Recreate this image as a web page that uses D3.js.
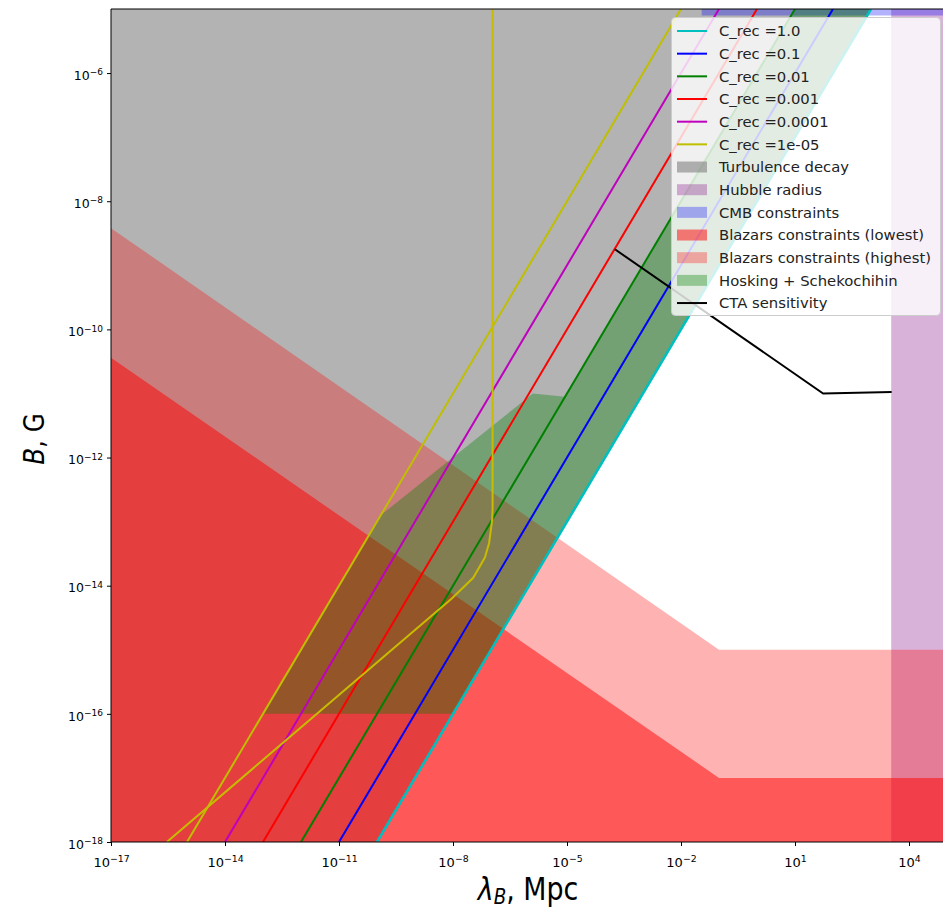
<!DOCTYPE html>
<html><head><meta charset="utf-8">
<script src="https://cdn.jsdelivr.net/npm/d3@7"></script>
<style>body{margin:0;background:#fff} text{font-family:"DejaVu Sans",sans-serif}</style>
</head><body><svg id="c" width="943" height="913"></svg>
<script>
// ---------- data (lambda in Mpc, B in G) ----------
const lineLabels = ["C_rec =1.0","C_rec =0.1","C_rec =0.01","C_rec =0.001","C_rec =0.0001","C_rec =1e-05"];
const lineColors = ["#00bfbf","#0000ff","#008000","#ff0000","#bf00bf","#bfbf00"];
const crec1     = [[1e-10,1e-18],[1e3,1e-5]];
const crec01    = [[1e-11,1e-18],[1e2,1e-5]];
const crec001   = [[1e-12,1e-18],[1e1,1e-5]];
const crec0001  = [[1e-13,1e-18],[1e0,1e-5]];
const crec00001 = [[1e-14,1e-18],[1e-1,1e-5]];
const crec1em5  = [[1e-15,1e-18],[1e-2,1e-5]];
const crecLines = [crec1,crec01,crec001,crec0001,crec00001,crec1em5];
// unlabelled yellow curve
const yellowCurve = [[2.95e-16,1e-18],[9.3e-9,6.3e-15],[3.4e-8,1.33e-14],[6.9e-8,2.75e-14],[8.9e-8,4.6e-14],[1.07e-7,1.05e-13],[1.1e-7,1.6e-13],[1.1e-7,1e-5]];
const turbulence = [[1e-17,1e-18],[1e-10,1e-18],[1e3,1e-5],[1e-17,1e-5]];
const hubble = [[3.4e3,1e-18],[1e6,1e-18],[1e6,1e-5],[3.4e3,1e-5]];
const cmb = [[0.035,7.9e-6],[1e6,7.9e-6],[1e6,1e-5],[0.035,1e-5]];
const blazLow  = [[1e-17,3.6e-11],[0.1,1e-17],[1e6,1e-17]];
const blazHigh = [[1e-17,3.8e-9],[0.1,1e-15],[1e6,1e-15]];
const hosking = [[1e-13,1e-16],[1e-8,1e-16],[1e3,1e-5],[1e1,1e-5],[8.9e-6,8.9e-12],[1.26e-6,1e-11],[1.26e-10,1.26e-13]];
const cta = [[1.82e-4,1.78e-9],[55,1e-11],[3.5e3,1.05e-11]];
const xTicks = [1e-17,1e-14,1e-11,1e-8,1e-5,1e-2,1e1,1e4];
const xTickExp = ["−17","−14","−11","−8","−5","−2","1","4"];
const yTicks = [1e-18,1e-16,1e-14,1e-12,1e-10,1e-8,1e-6];
const yTickExp = ["−18","−16","−14","−12","−10","−8","−6"];
const fills = [
  {label:"Turbulence decay", color:"#808080", alpha:0.6},
  {label:"Hubble radius", color:"#800080", alpha:0.3},
  {label:"CMB constraints", color:"#0000ff", alpha:0.3},
  {label:"Blazars constraints (lowest)", color:"#ff0000", alpha:0.5},
  {label:"Blazars constraints (highest)", color:"#ff0000", alpha:0.3},
  {label:"Hosking + Schekochihin", color:"#008000", alpha:0.35}
];

// ---------- layout ----------
const L=111, T=9, B=842;
const svg = d3.select("#c");
const x = d3.scaleLog().domain([1e-17,1e5]).range([L, L+22*38]);
const y = d3.scaleLog().domain([1e-18,1e-5]).range([B, T]);

svg.append("defs").append("clipPath").attr("id","clip")
  .append("rect").attr("x",L).attr("y",T).attr("width",943-L).attr("height",B-T);
const g = svg.append("g").attr("clip-path","url(#clip)");

const poly = d3.line().x(d=>x(d[0])).y(d=>y(d[1]));
function polyFill(pts, f){
  g.append("path").attr("d", poly(pts)+"Z").attr("fill", f.color).attr("fill-opacity", f.alpha);
}
function areaFill(pts, f){
  const a = d3.area().x(d=>x(d[0])).y0(y(1e-18)).y1(d=>y(d[1]));
  g.append("path").attr("d", a(pts)).attr("fill", f.color).attr("fill-opacity", f.alpha);
}
polyFill(turbulence, fills[0]);
polyFill(hubble, fills[1]);
polyFill(cmb, fills[2]);
areaFill(blazLow, fills[3]);
areaFill(blazHigh, fills[4]);
polyFill(hosking, fills[5]);

crecLines.forEach((pts,i)=>{
  g.append("path").attr("d", poly(pts)).attr("fill","none")
   .attr("stroke", lineColors[i]).attr("stroke-width", i===0?2.6:2);
});
g.append("path").attr("d", poly(yellowCurve)).attr("fill","none")
  .attr("stroke","#c8bb00").attr("stroke-width",2);
g.append("path").attr("d", poly(cta)).attr("fill","none")
  .attr("stroke","#000").attr("stroke-width",2);

// ---------- axes ----------
function sup(sel, exps){
  sel.selectAll(".tick text").each(function(d,i){
    const t = d3.select(this); t.text(null);
    t.append("tspan").text("10");
    t.append("tspan").text(exps[i]).attr("font-size","0.72em").attr("dy","-0.5em");
  });
}
const xa = svg.append("g").attr("transform",`translate(0,${B})`)
  .call(d3.axisBottom(x).tickValues(xTicks).tickSize(4).tickPadding(5));
xa.select(".domain").remove();
xa.selectAll("text").attr("font-size",13).attr("fill","#000");
sup(xa, xTickExp);
xa.selectAll(".tick text").attr("dy","1.2em");

const ya = svg.append("g").attr("transform",`translate(${L},0)`)
  .call(d3.axisLeft(y).tickValues(yTicks).tickSize(4).tickPadding(4));
ya.select(".domain").remove();
ya.selectAll("text").attr("font-size",12.5).attr("fill","#000");
sup(ya, yTickExp);
ya.selectAll(".tick text").attr("dy","0.5em");

// spines
svg.append("line").attr("x1",L).attr("x2",L).attr("y1",T).attr("y2",B).attr("stroke","#000").attr("stroke-width",1);
svg.append("line").attr("x1",L).attr("x2",943).attr("y1",B).attr("y2",B).attr("stroke","#000").attr("stroke-width",1);
svg.append("line").attr("x1",L).attr("x2",943).attr("y1",T).attr("y2",T).attr("stroke","#000").attr("stroke-width",1);

// axis labels
const xl = svg.append("text").attr("transform","translate(528,900) scale(0.84,1)").attr("text-anchor","middle")
  .attr("font-size",32);
xl.append("tspan").text("λ").attr("font-style","italic");
xl.append("tspan").text("B").attr("font-style","italic").attr("font-size","0.68em").attr("dy","0.2em");
xl.append("tspan").text(", Mpc").attr("dy","-0.14em");
const yl = svg.append("text").attr("transform","translate(44,439) rotate(-90) scale(0.85,1)").attr("text-anchor","middle")
  .attr("font-size",29);
yl.append("tspan").text("B").attr("font-style","italic");
yl.append("tspan").text(", G");

// ---------- legend ----------
const lg = svg.append("g");
lg.append("rect").attr("x",671.5).attr("y",17.5).attr("width",269).attr("height",298).attr("rx",4)
  .attr("fill","#fff").attr("fill-opacity",0.8).attr("stroke","#cccccc").attr("stroke-width",1);
const entries = lineLabels.map((l,i)=>({type:"line",label:l,color:lineColors[i]}))
  .concat(fills.map(f=>({type:"patch",label:f.label,color:f.color,alpha:f.alpha})))
  .concat([{type:"line",label:"CTA sensitivity",color:"#000"}]);
entries.forEach((e,i)=>{
  const cy = 31 + i*22.67;
  if(e.type==="line"){
    lg.append("line").attr("x1",677).attr("x2",707).attr("y1",cy).attr("y2",cy)
      .attr("stroke",e.color).attr("stroke-width",2);
  } else {
    lg.append("rect").attr("x",677).attr("y",cy-5.5).attr("width",30).attr("height",11)
      .attr("fill",e.color).attr("fill-opacity",e.alpha);
  }
  lg.append("text").attr("x",719).attr("y",cy).attr("dy","0.36em").attr("font-size",14.8)
    .attr("fill","#222").text(e.label);
});
</script></body></html>
